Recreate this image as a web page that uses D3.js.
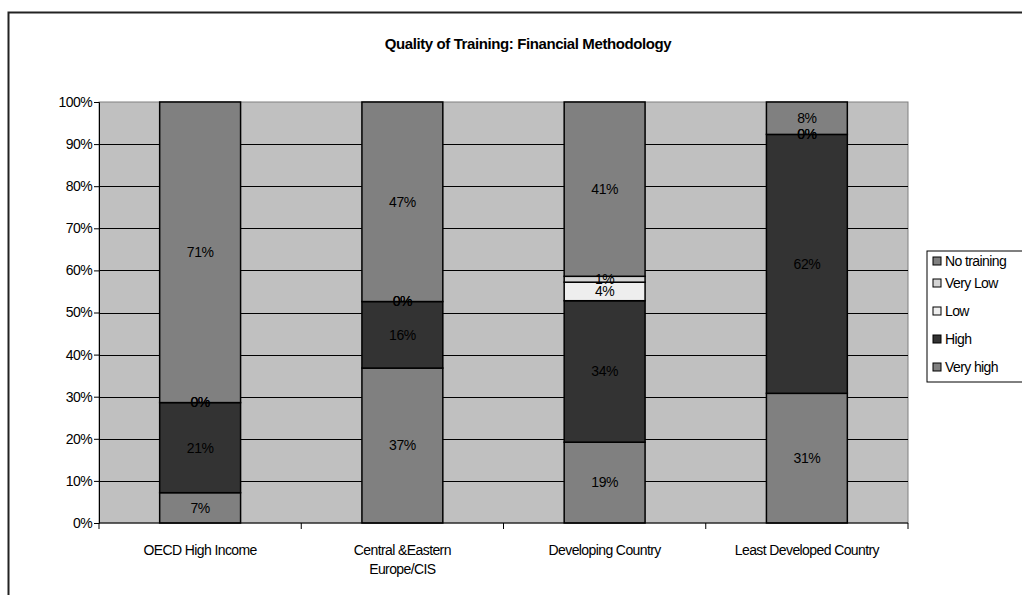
<!DOCTYPE html>
<html>
<head>
<meta charset="utf-8">
<script src="https://cdn.jsdelivr.net/npm/d3@7"></script>
<style>
  body { margin: 0; background: #fff; }
  svg text { font-family: Arial, "Liberation Sans", sans-serif; }
</style>
</head>
<body>
<div id="chart"></div>
<script>
const categories = ["OECD High Income", "Central &Eastern Europe/CIS", "Developing Country", "Least Developed Country"]
const series = ["Very high", "High", "Low", "Very Low", "No training"]
const veryHigh = [7.2, 36.8, 19.2, 30.8]
const high = [21.4, 15.8, 33.6, 61.5]
const low = [0, 0, 4.4, 0]
const veryLow = [0, 0, 1.4, 0]
const noTraining = [71.4, 47.4, 41.4, 7.7]
const yTicks = [0, 10, 20, 30, 40, 50, 60, 70, 80, 90, 100]

const colors = {
  "Very high": "#808080",
  "High": "#333333",
  "Low": "#eeeeee",
  "Very Low": "#d4d4d4",
  "No training": "#808080"
}

const width = 1022
const height = 595
const margin = { top: 102, right: 114, bottom: 72, left: 99 }

const svg = d3.select("#chart")
  .append("svg")
  .attr("width", width)
  .attr("height", height)

// outer chart frame (runs off the right / bottom edge)
svg.append("rect")
  .attr("x", 8.5).attr("y", 12.5)
  .attr("width", width + 20).attr("height", height + 20)
  .attr("fill", "none")
  .attr("stroke", "#222")
  .attr("stroke-width", 2)

svg.append("text")
  .attr("x", 528)
  .attr("y", 49)
  .attr("text-anchor", "middle")
  .attr("font-size", "15px")
  .attr("font-weight", "700")
  .attr("letter-spacing", "-0.4px")
  .text("Quality of Training: Financial Methodology")

const x = d3.scaleBand()
  .domain(categories)
  .range([margin.left, width - margin.right])
  .paddingInner(0)

const y = d3.scaleLinear()
  .domain([0, 100])
  .range([height - margin.bottom, margin.top])

// plot background
svg.append("rect")
  .attr("x", margin.left)
  .attr("y", margin.top)
  .attr("width", x.range()[1] - margin.left)
  .attr("height", y(0) - margin.top)
  .attr("fill", "#c0c0c0")
  .attr("stroke", "#808080")

// gridlines
svg.append("g")
  .selectAll("line")
  .data(yTicks.filter(d => d > 0 && d < 100))
  .join("line")
  .attr("x1", margin.left).attr("x2", x.range()[1])
  .attr("y1", d => Math.round(y(d)) + 0.5)
  .attr("y2", d => Math.round(y(d)) + 0.5)
  .attr("stroke", "#000")

// stacked data
const table = categories.map((c, i) => ({
  category: c,
  "Very high": veryHigh[i],
  "High": high[i],
  "Low": low[i],
  "Very Low": veryLow[i],
  "No training": noTraining[i]
}))
const stacked = d3.stack().keys(series)(table)

const barW = x.bandwidth() * 0.4
svg.append("g")
  .selectAll("g")
  .data(stacked)
  .join("g")
  .attr("fill", d => colors[d.key])
  .selectAll("rect")
  .data(d => d)
  .join("rect")
  .attr("x", d => x(d.data.category) + (x.bandwidth() - barW) / 2)
  .attr("y", d => y(d[1]))
  .attr("width", barW)
  .attr("height", d => y(d[0]) - y(d[1]))
  .attr("stroke", "#000")
  .attr("stroke-width", 1.5)

// labels, drawn on top of all segments
svg.append("g")
  .selectAll("g")
  .data(stacked)
  .join("g")
  .selectAll("text")
  .data(d => d)
  .join("text")
  .attr("x", d => x(d.data.category) + x.bandwidth() / 2)
  .attr("y", d => y((d[0] + d[1]) / 2))
  .attr("dy", "0.35em")
  .attr("text-anchor", "middle")
  .attr("fill", "#000")
  .attr("font-size", "14px")
  .attr("letter-spacing", "-0.5px")
  .text(d => Math.round(d[1] - d[0]) + "%")

// y axis
const yAxis = svg.append("g")
  .attr("transform", `translate(${margin.left},0)`)
  .call(d3.axisLeft(y).tickValues(yTicks).tickFormat(d => d + "%").tickSizeOuter(0).tickSize(5))
yAxis.select(".domain").attr("stroke", "#000")
yAxis.selectAll("text")
  .attr("font-size", "14px")
  .attr("letter-spacing", "-0.6px")
  .attr("fill", "#000")
  .attr("font-family", "Arial, 'Liberation Sans', sans-serif")
  .attr("x", -7)

// x axis
const xg = svg.append("g")
  .attr("transform", `translate(0,${y(0)})`)
xg.append("line")
  .attr("x1", margin.left).attr("x2", x.range()[1])
  .attr("stroke", "#000")
xg.selectAll("line.tick")
  .data(categories.concat([null]))
  .join("line")
  .attr("class", "tick")
  .attr("x1", (d, i) => i < categories.length ? x(d) : x.range()[1])
  .attr("x2", (d, i) => i < categories.length ? x(d) : x.range()[1])
  .attr("y2", 6)
  .attr("stroke", "#000")

const xLabelLines = {
  "Central &Eastern Europe/CIS": ["Central &Eastern", "Europe/CIS"]
}
xg.selectAll("text")
  .data(categories)
  .join("text")
  .attr("x", d => x(d) + x.bandwidth() / 2)
  .attr("y", 32)
  .attr("text-anchor", "middle")
  .attr("font-size", "14px")
  .attr("letter-spacing", "-0.6px")
  .each(function (d) {
    const lines = xLabelLines[d] || [d]
    d3.select(this).selectAll("tspan")
      .data(lines)
      .join("tspan")
      .attr("x", x(d) + x.bandwidth() / 2)
      .attr("dy", (l, i) => i === 0 ? 0 : 19)
      .text(l => l)
  })

// legend
const legend = svg.append("g").attr("transform", "translate(927,251)")
legend.append("rect")
  .attr("width", 120).attr("height", 131)
  .attr("fill", "#fff")
  .attr("stroke", "#000")
const legendItems = series.slice().reverse()
const item = legend.selectAll("g")
  .data(legendItems)
  .join("g")
  .attr("transform", (d, i) => `translate(6,${(i === 0 ? 10 : 32 + (i - 1) * 28)})`)
item.append("rect")
  .attr("y", -4)
  .attr("width", 8).attr("height", 8)
  .attr("fill", d => colors[d])
  .attr("stroke", "#000")
item.append("text")
  .attr("x", 12)
  .attr("dy", "0.35em")
  .attr("font-size", "14px")
  .attr("letter-spacing", "-0.6px")
  .text(d => d)
</script>
</body>
</html>
